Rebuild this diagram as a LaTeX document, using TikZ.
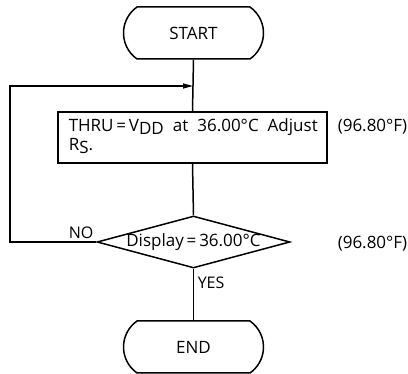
\documentclass[tikz,border=0pt]{standalone}
\usepackage{fontspec}
\setmainfont{Open Sans}
\usetikzlibrary{shapes.misc,shapes.geometric,arrows.meta}
\newcommand{\mysub}[1]{\raisebox{-3pt}{#1}}
\newcommand{\bigtxt}{\fontsize{17}{19}\selectfont}
\begin{document}
\begin{tikzpicture}[x=1pt,y=-1pt,line width=1.5pt,
  term/.style={draw,rounded rectangle,rounded rectangle arc length=110,minimum width=140pt,minimum height=52pt,inner sep=0pt,font=\bigtxt},
  procbox/.style={draw,rectangle,minimum width=269pt,minimum height=51pt,inner sep=0pt},
  decision/.style={draw,diamond,minimum width=193pt,minimum height=52pt,inner sep=0pt},
  plain/.style={inner sep=0pt,anchor=base west,font=\bigtxt},
  lbl/.style={inner sep=0pt,anchor=base west,font=\fontsize{16}{18}\selectfont}]
\useasboundingbox (0,0) rectangle (408,374);
\node[term] (start) at (193.5,33) {START};
\node[procbox] (proc) at (192.5,137.5) {};
\node[plain,text width=249pt,align=justify] (ptxt) at (68,132) {THRU\,=\,V\mysub{DD} at 36.00°C Adjust\linebreak R\mysub{S}.};
\node[decision] (dec) at (193.5,242) {\makebox[0pt]{\raisebox{-1.5pt}{\bigtxt Display\,=\,36.00°C}}};
\node[term] (end) at (193.5,347) {END};
\node[plain] (f1) at (337,132) {(96.80°F)};
\node[plain] (f2) at (337,249) {(96.80°F)};
\node[lbl] (no) at (68,239) {NO};
\node[lbl] (yes) at (197,289) {YES};
\coordinate (join) at (193,86);
\coordinate (corner) at (10,86);
\draw (start.south) -- (proc.north);
\draw (proc.south) -- (dec.north);
\draw (dec.south) -- (end.north);
\draw[-{Triangle[length=10pt,width=5pt]}] (dec.west) -| (corner) -- (join);
\end{tikzpicture}
\end{document}
